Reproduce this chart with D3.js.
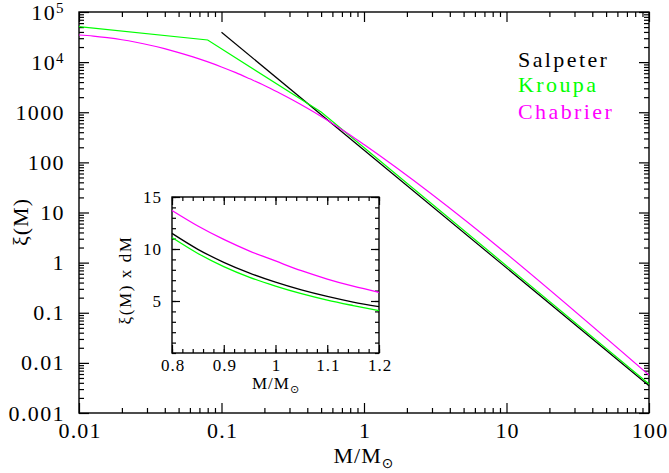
<!DOCTYPE html>
<html><head><meta charset="utf-8">
<script src="https://cdn.jsdelivr.net/npm/d3@7/dist/d3.min.js"></script>
<style>
body{margin:0;background:#fff}
svg text{font-family:"Liberation Serif","Times New Roman",serif;fill:#000}
</style>
</head><body>
<svg id="chart" width="669" height="473"></svg>
<script>
// ---------- data ----------
const salpeterMass = [0.1, 100];
const salpeterXi   = [39400, 0.0035];
const kroupaMass   = [0.01, 0.08, 0.5, 100];
const kroupaXi     = [51000, 27600, 1010, 0.0038];
const chabrierMass = [0.01,0.0126,0.0158,0.02,0.0251,0.0316,0.0398,0.0501,0.0631,0.0794,0.1,0.126,0.158,0.2,0.251,0.316,0.398,0.501,0.631,0.794,1,100];
const chabrierXi   = [34750,33040,30690,27930,24890,21730,18540,15520,12740,10210,8017,6166,4645,3428,2477,1754,1213,824,547,356,226.5,0.00569];

const insetMass     = [0.8,0.85,0.9,0.95,1.0,1.05,1.1,1.15,1.2];
const insetSalpeter = [11.5,9.97,8.72,7.68,6.81,6.07,5.44,4.90,4.46];
const insetKroupa   = [11.1,9.57,8.31,7.28,6.43,5.70,5.08,4.56,4.08];
const insetChabrier = [13.7,12.21,10.92,9.80,8.85,7.91,7.11,6.42,5.84];

const xTickValues = [0.01,0.1,1,10,100];
const xTickLabels = ["0.01","0.1","1","10","100"];
const yTickValues = [1e5,1e4,1000,100,10,1,0.1,0.01,0.001];
const yTickLabels = ["10^5","10^4","1000","100","10","1","0.1","0.01","0.001"];
const insetXTicks = [0.8,0.9,1.0,1.1,1.2];
const insetXLabels = ["0.8","0.9","1","1.1","1.2"];
const insetYTicks = [5,10,15];
const insetYLabels = ["5","10","15"];

const seriesNames  = ["Salpeter","Kroupa","Chabrier"];
const seriesColors = ["#000000","#00ff00","#ff00ff"];

// ---------- layout ----------
const svg = d3.select("#chart");
const L=79, R=649, T=12, B=413;
const x = d3.scaleLog().domain([0.01,100]).range([L,R]);
const y = d3.scaleLog().domain([0.001,1e5]).range([B,T]);

function minorLog(lo, hi){
  const out=[];
  for(let e=Math.round(Math.log10(lo)); e<Math.round(Math.log10(hi)); e++)
    for(let k=2;k<=9;k++) out.push(k*Math.pow(10,e));
  return out;
}
function styleAxis(g){
  g.attr("font-family",null).attr("font-size",null);
  g.select(".domain").remove();
  g.selectAll(".tick line").attr("stroke","#000").attr("stroke-width",1.2);
}

// minor ticks main
svg.append("g").attr("transform",`translate(0,${B})`)
  .call(d3.axisBottom(x).tickValues(minorLog(0.01,100)).tickSize(-5).tickFormat(""))
  .call(styleAxis);
svg.append("g").attr("transform",`translate(0,${T})`)
  .call(d3.axisTop(x).tickValues(minorLog(0.01,100)).tickSize(-5).tickFormat(""))
  .call(styleAxis);
svg.append("g").attr("transform",`translate(${L},0)`)
  .call(d3.axisLeft(y).tickValues(minorLog(0.001,1e5)).tickSize(-5).tickFormat(""))
  .call(styleAxis);
svg.append("g").attr("transform",`translate(${R},0)`)
  .call(d3.axisRight(y).tickValues(minorLog(0.001,1e5)).tickSize(-5).tickFormat(""))
  .call(styleAxis);

// major ticks main
const xb = svg.append("g").attr("transform",`translate(0,${B})`)
  .call(d3.axisBottom(x).tickValues(xTickValues).tickSize(-10).tickPadding(9)
        .tickFormat((d,i)=>xTickLabels[i]))
  .call(styleAxis);
xb.selectAll(".tick text").attr("font-size",22).attr("letter-spacing","1.2px").attr("dx","0.6px");
svg.append("g").attr("transform",`translate(0,${T})`)
  .call(d3.axisTop(x).tickValues(xTickValues).tickSize(-10).tickFormat(""))
  .call(styleAxis);
const yl = svg.append("g").attr("transform",`translate(${L},0)`)
  .call(d3.axisLeft(y).tickValues(yTickValues).tickSize(-10).tickPadding(14)
        .tickFormat((d,i)=>yTickLabels[i]))
  .call(styleAxis);
yl.selectAll(".tick text").attr("font-size",22).attr("letter-spacing","1.4px")
  .each(function(d,i){
    const lab = yTickLabels[i];
    const t = d3.select(this);
    if(lab.indexOf("^")>=0){
      const parts = lab.split("^");
      t.text(null);
      t.append("tspan").text(parts[0]);
      t.append("tspan").attr("font-size",15).attr("dy","-0.45em").text(parts[1]);
    }
  });
svg.append("g").attr("transform",`translate(${R},0)`)
  .call(d3.axisRight(y).tickValues(yTickValues).tickSize(-10).tickFormat(""))
  .call(styleAxis);

svg.append("rect").attr("x",L).attr("y",T).attr("width",R-L).attr("height",B-T)
  .attr("fill","none").attr("stroke","#000").attr("stroke-width",1.4);

// curves
const line = d3.line().x(d=>x(d[0])).y(d=>y(d[1]));
const curveLine = d3.line().x(d=>x(d[0])).y(d=>y(d[1])).curve(d3.curveMonotoneX);
const mainG = svg.append("g").attr("fill","none").attr("stroke-width",1.2);
mainG.append("path").attr("d",line(salpeterMass.map((m,i)=>[m,salpeterXi[i]]))).attr("stroke",seriesColors[0]);
mainG.append("path").attr("d",line(kroupaMass.map((m,i)=>[m,kroupaXi[i]]))).attr("stroke",seriesColors[1]);
mainG.append("path").attr("d",curveLine(chabrierMass.map((m,i)=>[m,chabrierXi[i]]))).attr("stroke",seriesColors[2]);

// legend
const legY = [67,92,119];
seriesNames.forEach((n,i)=>{
  svg.append("text").attr("x",518).attr("y",legY[i]).attr("font-size",22)
    .attr("letter-spacing","2.4px").style("fill",seriesColors[i]).text(n);
});

// axis titles
const xt = svg.append("text").attr("x",364).attr("y",463).attr("text-anchor","middle").attr("font-size",22).attr("letter-spacing","1px");
xt.append("tspan").text("M/M");
xt.append("tspan").attr("font-size",14).attr("dy","5").style("font-family","DejaVu Sans").text("⊙");
svg.append("text").attr("transform","translate(28,222) rotate(-90)").attr("text-anchor","middle")
  .attr("font-size",22).attr("letter-spacing","1px").text("ξ(M)");

// ---------- inset ----------
const iL=172, iR=379, iT=197, iB=353;
const ix = d3.scaleLinear().domain([0.8,1.2]).range([iL,iR]);
const iy = d3.scaleLinear().domain([0,15]).range([iB,iT]);
const ig = svg.append("g");
ig.append("rect").attr("x",iL).attr("y",iT).attr("width",iR-iL).attr("height",iB-iT).attr("fill","#fff");
const iMinorX = d3.range(0.8,1.2001,0.02);
const iMinorY = d3.range(0,15.01,1);
ig.append("g").attr("transform",`translate(0,${iB})`).call(d3.axisBottom(ix).tickValues(iMinorX).tickSize(-4).tickFormat("")).call(styleAxis);
ig.append("g").attr("transform",`translate(0,${iT})`).call(d3.axisTop(ix).tickValues(iMinorX).tickSize(-4).tickFormat("")).call(styleAxis);
ig.append("g").attr("transform",`translate(${iL},0)`).call(d3.axisLeft(iy).tickValues(iMinorY).tickSize(-4).tickFormat("")).call(styleAxis);
ig.append("g").attr("transform",`translate(${iR},0)`).call(d3.axisRight(iy).tickValues(iMinorY).tickSize(-4).tickFormat("")).call(styleAxis);
const ixb = ig.append("g").attr("transform",`translate(0,${iB})`)
  .call(d3.axisBottom(ix).tickValues(insetXTicks).tickSize(-8).tickPadding(6).tickFormat((d,i)=>insetXLabels[i])).call(styleAxis);
ixb.selectAll(".tick text").attr("font-size",17).attr("letter-spacing","1px").attr("dx","0.5px");
ig.append("g").attr("transform",`translate(0,${iT})`).call(d3.axisTop(ix).tickValues(insetXTicks).tickSize(-8).tickFormat("")).call(styleAxis);
const iyl = ig.append("g").attr("transform",`translate(${iL},0)`)
  .call(d3.axisLeft(iy).tickValues(insetYTicks).tickSize(-8).tickPadding(10).tickFormat((d,i)=>insetYLabels[i])).call(styleAxis);
iyl.selectAll(".tick text").attr("font-size",17).attr("letter-spacing","1px");
ig.append("g").attr("transform",`translate(${iR},0)`).call(d3.axisRight(iy).tickValues(insetYTicks).tickSize(-8).tickFormat("")).call(styleAxis);
ig.append("rect").attr("x",iL).attr("y",iT).attr("width",iR-iL).attr("height",iB-iT)
  .attr("fill","none").attr("stroke","#000").attr("stroke-width",1.4);

const iline = d3.line().x(d=>ix(d[0])).y(d=>iy(d[1])).curve(d3.curveMonotoneX);
const iSeries = [insetSalpeter, insetKroupa, insetChabrier];
iSeries.forEach((s,k)=>{
  ig.append("path").attr("d",iline(insetMass.map((m,i)=>[m,s[i]])))
    .attr("fill","none").attr("stroke",seriesColors[k]).attr("stroke-width",1.3);
});
const ixt = ig.append("text").attr("x",276).attr("y",389).attr("text-anchor","middle").attr("font-size",17).attr("letter-spacing","1px");
ixt.append("tspan").text("M/M");
ixt.append("tspan").attr("font-size",11).attr("dy","4").style("font-family","DejaVu Sans").text("⊙");
ig.append("text").attr("transform","translate(131,280) rotate(-90)").attr("text-anchor","middle")
  .attr("font-size",17).attr("letter-spacing","1.6px").attr("xml:space","preserve").text("ξ(M) x dM");
</script>
</body></html>
